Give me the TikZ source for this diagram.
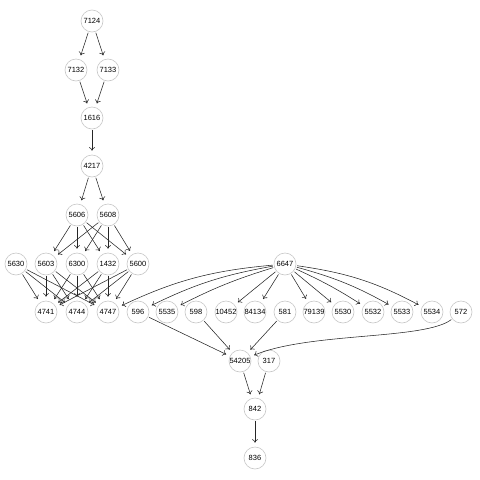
\documentclass[tikz,border=0pt]{standalone}
\usepackage{fontspec}
\setmainfont{Liberation Sans}
\usetikzlibrary{arrows.meta}
\newcommand{\vtx}[3]{\node[vert] (v#1) at (#2,#3) {#1};}
\newcommand{\arc}[2]{\draw[edge] (v#1) -- (v#2);}
\newcommand{\arcb}[3]{\draw[edge] (v#1) to[#3] (v#2);}

\begin{document}
\begin{tikzpicture}[x=1pt, y=-1pt,
    vert/.style={circle, draw=black!22, fill=white, line width=0.6pt, minimum size=22pt, inner sep=0pt, font=\fontsize{7.5}{8}\selectfont},
    edge/.style={-{To[length=3.5pt,width=6pt]}, black!85, line width=0.55pt, shorten >=4pt, shorten <=1pt}]
            \useasboundingbox (0,0) rectangle (480,480);
            % row 1
            \vtx{7124}{92}{21}
            % row 2
            \vtx{7132}{76}{70}
            \vtx{7133}{108}{70}
            % row 3
            \vtx{1616}{92}{118}
            % row 4
            \vtx{4217}{92}{166}
            % row 5
            \vtx{5606}{77}{215}
            \vtx{5608}{108}{215}
            % row 6
            \vtx{5630}{16}{264}
            \vtx{5603}{46}{264}
            \vtx{6300}{77}{264}
            \vtx{1432}{108}{264}
            \vtx{5600}{138}{264}
            \vtx{6647}{285}{264}
            % row 7
            \vtx{4741}{46}{312}
            \vtx{4744}{77}{312}
            \vtx{4747}{108}{312}
            \vtx{596}{138}{312}
            \vtx{5535}{167}{312}
            \vtx{598}{196}{312}
            \vtx{10452}{226}{312}
            \vtx{84134}{255}{312}
            \vtx{581}{285}{312}
            \vtx{79139}{314}{312}
            \vtx{5530}{343}{312}
            \vtx{5532}{373}{312}
            \vtx{5533}{402}{312}
            \vtx{5534}{432}{312}
            \vtx{572}{461}{312}
            % row 8
            \vtx{54205}{240}{361}
            \vtx{317}{269}{361}
            % row 9
            \vtx{842}{255}{409}
            % row 10
            \vtx{836}{255}{458}
            % top chain
            \arc{7124}{7132}
            \arc{7124}{7133}
            \arc{7132}{1616}
            \arc{7133}{1616}
            \arc{1616}{4217}
            \arc{4217}{5606}
            \arc{4217}{5608}
            % left block
            \foreach \a in {5606,5608}
              \foreach \b in {5603,6300,1432,5600}
                {\arc{\a}{\b}}
            \foreach \a in {5630,5603,6300,1432,5600}
              \foreach \b in {4741,4744,4747}
                {\arc{\a}{\b}}
            % fan of 6647
            \arcb{6647}{4747}{bend right=10}
            \arcb{6647}{596}{bend right=8}
            \arcb{6647}{5535}{bend right=5}
            \arc{6647}{10452}
            \arc{6647}{84134}
            \arc{6647}{79139}
            \arc{6647}{5530}
            \arcb{6647}{5532}{bend left=4}
            \arcb{6647}{5533}{bend left=7}
            \arcb{6647}{5534}{bend left=10}
            % bottom
            \arc{596}{54205}
            \arc{598}{54205}
            \arc{581}{54205}
            \draw[edge] (v572) .. controls (425,340) and (310,332) .. (v54205);
            \arc{54205}{842}
            \arc{317}{842}
            \arc{842}{836}
\end{tikzpicture}
\end{document}
